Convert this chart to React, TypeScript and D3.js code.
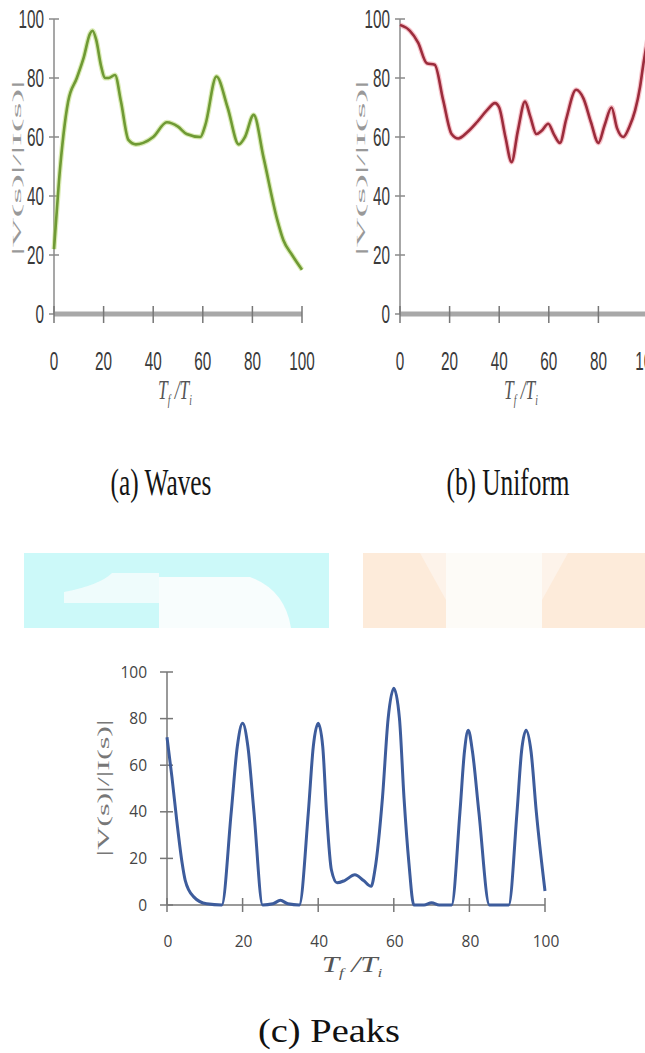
import React from "react";
import * as d3 from "d3";

const xTicks = [0, 20, 40, 60, 80, 100];
const yTicks = [0, 20, 40, 60, 80, 100];

const wavesX = [0, 2, 5.7, 9.2, 12, 14.5, 15.5, 17, 19, 20.5, 22, 24.6, 27, 30, 33, 36, 40, 45.5, 50, 53.5, 59, 61, 65.5, 70, 74.5, 77, 80.5, 84.5, 90, 92.5, 96, 100];
const wavesY = [22, 45, 72, 80, 87, 95, 96, 93, 84, 80, 80, 81, 72, 59, 57.5, 58, 60, 65, 63.5, 61, 60, 64, 80.5, 70, 57.5, 60, 67.5, 53, 32, 25, 20, 15];

const uniformX = [0, 4, 7.3, 10.8, 14, 17.4, 20.8, 23.5, 27, 31, 35, 38.3, 40, 42.5, 45, 47.5, 50.4, 52.5, 55, 57, 59.8, 62, 64.5, 67, 71, 74, 77, 80, 82.5, 85.3, 87.5, 90, 92.5, 94.8, 96.8, 98, 100];
const uniformY = [98, 96, 92, 85, 84.5, 72.5, 61, 59.5, 61.5, 65, 69, 71.5, 70, 60, 51.5, 62, 72, 67, 61, 62, 64.5, 61, 58, 66, 76, 73, 65, 58, 64, 70, 63, 60, 63.5, 69, 77, 84, 94];

const peaksX = [0, 1.3, 2.6, 4, 4.8, 7, 10.5, 14.5, 17, 18.6, 20, 21.4, 23, 25.3, 28, 30, 32, 35, 37.4, 38.7, 40, 41.2, 42.2, 43.5, 45, 47, 49.7, 52, 54, 55, 57, 58.5, 60, 61.5, 62.7, 64, 65.3, 68, 70, 72, 75.3, 77.5, 78.7, 79.7, 80.8, 82.5, 85.3, 90.4, 92.6, 93.8, 95, 96.3, 97.7, 100];
const peaksY = [72, 55, 36, 18, 10.7, 3.6, 0.5, 0, 40, 68, 78, 68, 40, 0, 0.5, 2, 0.5, 0, 40, 68, 78, 68, 40, 15, 9.5, 10.5, 13, 10.5, 8, 15, 46, 80, 93, 80, 46, 18, 0, 0, 1, 0, 0, 40, 66, 75, 66, 40, 0, 0, 40, 66, 75, 66, 40, 6];

const captions = ["(a) Waves", "(b) Uniform", "(c) Peaks"];

function zip(xs: number[], ys: number[]) {
  return xs.map((x, i) => [x, ys[i]] as [number, number]);
}

function AxisTitle({ cx, y, size, sx, color }: any) {
  return (
    <g transform={`translate(${cx},${y}) scale(${sx},1)`}>
      <text x={0} y={0} textAnchor="middle" fontFamily="Liberation Serif, serif" fontStyle="italic" fontSize={size} fill={color}>
        {"T"}<tspan fontSize={size * 0.55} dy={size * 0.2}>{"f"}</tspan><tspan dy={-size * 0.2}>{" /T"}</tspan><tspan fontSize={size * 0.55} dy={size * 0.2}>{"i"}</tspan>
      </text>
    </g>
  );
}

function YTitle({ cx, cy, size, len, sx, color }: any) {
  return (
    <g transform={`translate(${cx},${cy}) scale(${sx},1) rotate(-90)`}>
      <text x={0} y={0} textAnchor="middle" dominantBaseline="middle" fontFamily="Liberation Serif, serif" fontSize={size} fill={color} textLength={len} lengthAdjust="spacingAndGlyphs">
        {"|V(s)|/|I(s)|"}
      </text>
    </g>
  );
}

function SmallPanel({ x0, x1, yTop, yBot, xs, ys, color, halo, ytx }: any) {
  const x = d3.scaleLinear().domain([0, 100]).range([x0, x1]);
  const y = d3.scaleLinear().domain([0, 100]).range([yBot, yTop]);
  const line = d3.line<[number, number]>().x(d => x(d[0])).y(d => y(d[1])).curve(d3.curveMonotoneX);
  const path = line(zip(xs, ys)) || "";
  return (
    <g>
      <line x1={x0} x2={x0} y1={yTop} y2={yBot} stroke="#8a8a8a" strokeWidth={1.5} />
      {yTicks.map(t => (
        <g key={"y" + t}>
          <line x1={x0 - 5} x2={x0 + 5} y1={y(t)} y2={y(t)} stroke="#8a8a8a" strokeWidth={1.5} />
          <text x={x0 - 10} y={y(t) + 9} textAnchor="end" fontFamily="Liberation Sans, sans-serif" fontSize={25} fill="#3a3a3a" textLength={String(t).length * 8.5} lengthAdjust="spacingAndGlyphs">{t}</text>
        </g>
      ))}
      <line x1={x0} x2={x1} y1={yBot} y2={yBot} stroke="#a8a8a8" strokeWidth={5} />
      {xTicks.map(t => (
        <g key={"x" + t}>
          <line x1={x(t)} x2={x(t)} y1={yBot - 8} y2={yBot + 9} stroke="#777" strokeWidth={1.5} />
          <text x={x(t)} y={yBot + 56} textAnchor="middle" fontFamily="Liberation Sans, sans-serif" fontSize={25} fill="#3a3a3a" textLength={String(t).length * 8.5} lengthAdjust="spacingAndGlyphs">{t}</text>
        </g>
      ))}
      <path d={path} fill="none" stroke={halo} strokeWidth={5} strokeOpacity={0.5} />
      <path d={path} fill="none" stroke={color} strokeWidth={2.6} />
      <AxisTitle cx={x0 + 121} y={yBot + 85} size={28} sx={0.62} color="#555" />
      <YTitle cx={ytx} cy={168} size={20} len={175} sx={0.6} color="#999" />
    </g>
  );
}

function PeaksPanel() {
  const x0 = 167, x1 = 545, yTop = 672, yBot = 905;
  const x = d3.scaleLinear().domain([0, 100]).range([x0, x1]);
  const y = d3.scaleLinear().domain([0, 100]).range([yBot, yTop]);
  const line = d3.line<[number, number]>().x(d => x(d[0])).y(d => y(d[1])).curve(d3.curveMonotoneX);
  const path = line(zip(peaksX, peaksY)) || "";
  return (
    <g>
      <line x1={x0} x2={x0} y1={yTop} y2={yBot} stroke="#777" strokeWidth={1.5} />
      <line x1={x0} x2={x1} y1={yBot} y2={yBot} stroke="#777" strokeWidth={1.5} />
      {yTicks.map(t => (
        <g key={"y" + t}>
          <line x1={x0 - 7} x2={x0 + 6} y1={y(t)} y2={y(t)} stroke="#777" strokeWidth={1.5} />
          <text x={x0 - 20} y={y(t) + 5.5} textAnchor="end" fontFamily="Open Sans, sans-serif" fontSize={15.5} fill="#444">{t}</text>
        </g>
      ))}
      {xTicks.map(t => (
        <g key={"x" + t}>
          <line x1={x(t)} x2={x(t)} y1={yBot - 7} y2={yBot + 7} stroke="#777" strokeWidth={1.5} />
          <text x={x(t) + 1} y={yBot + 42} textAnchor="middle" fontFamily="Open Sans, sans-serif" fontSize={15.5} fill="#444">{t}</text>
        </g>
      ))}
      <path d={path} fill="none" stroke="#3d5c9c" strokeWidth={3} strokeLinejoin="round" />
      <AxisTitle cx={352} y={972} size={24} sx={1.3} color="#555" />
      <YTitle cx={105} cy={788} size={16} len={137} sx={1} color="#777" />
    </g>
  );
}

export default function App() {
  return (
    <svg width={645} height={1053} style={{ position: "absolute", left: 0, top: 0, display: "block", background: "#fff" }}>
      <rect x={0} y={0} width={645} height={1053} fill="#fff" />
      <SmallPanel x0={54} x1={302} yTop={19} yBot={314} xs={wavesX} ys={wavesY} color="#6f9a34" halo="#b5d86a" ytx={18} />
      <SmallPanel x0={400} x1={648} yTop={19} yBot={314} xs={uniformX} ys={uniformY} color="#9c2c3c" halo="#f08a98" ytx={362} />
      <text x={161} y={495} textAnchor="middle" fontFamily="Liberation Serif, serif" fontSize={38} fill="#151515" textLength={101} lengthAdjust="spacingAndGlyphs">{captions[0]}</text>
      <text x={508} y={495} textAnchor="middle" fontFamily="Liberation Serif, serif" fontSize={38} fill="#151515" textLength={123} lengthAdjust="spacingAndGlyphs">{captions[1]}</text>
      <g>
        <rect x={24} y={553} width={305} height={75} fill="#ccf9f9" />
        <path d="M64,628 L64,603 L159,603 L159,573 L112,573 Q100,585 64,592 Z" fill="#f3fcfc" opacity={0.9} />
        <path d="M159,628 L159,577 L250,577 Q285,590 291,628 Z" fill="#f8fdfd" />
        <rect x={363} y={553} width={282} height={75} fill="#fdebda" />
        <rect x={446} y={553} width={96} height={75} fill="#fdfbf7" />
        <path d="M420,553 L446,600 L446,553 Z" fill="#fdf3ea" />
        <path d="M568,553 L542,600 L542,553 Z" fill="#fdf3ea" />
      </g>
      <PeaksPanel />
      <text x={329} y={1042} textAnchor="middle" fontFamily="Liberation Serif, serif" fontSize={34} fill="#111" textLength={142} lengthAdjust="spacingAndGlyphs">{captions[2]}</text>
    </svg>
  );
}
